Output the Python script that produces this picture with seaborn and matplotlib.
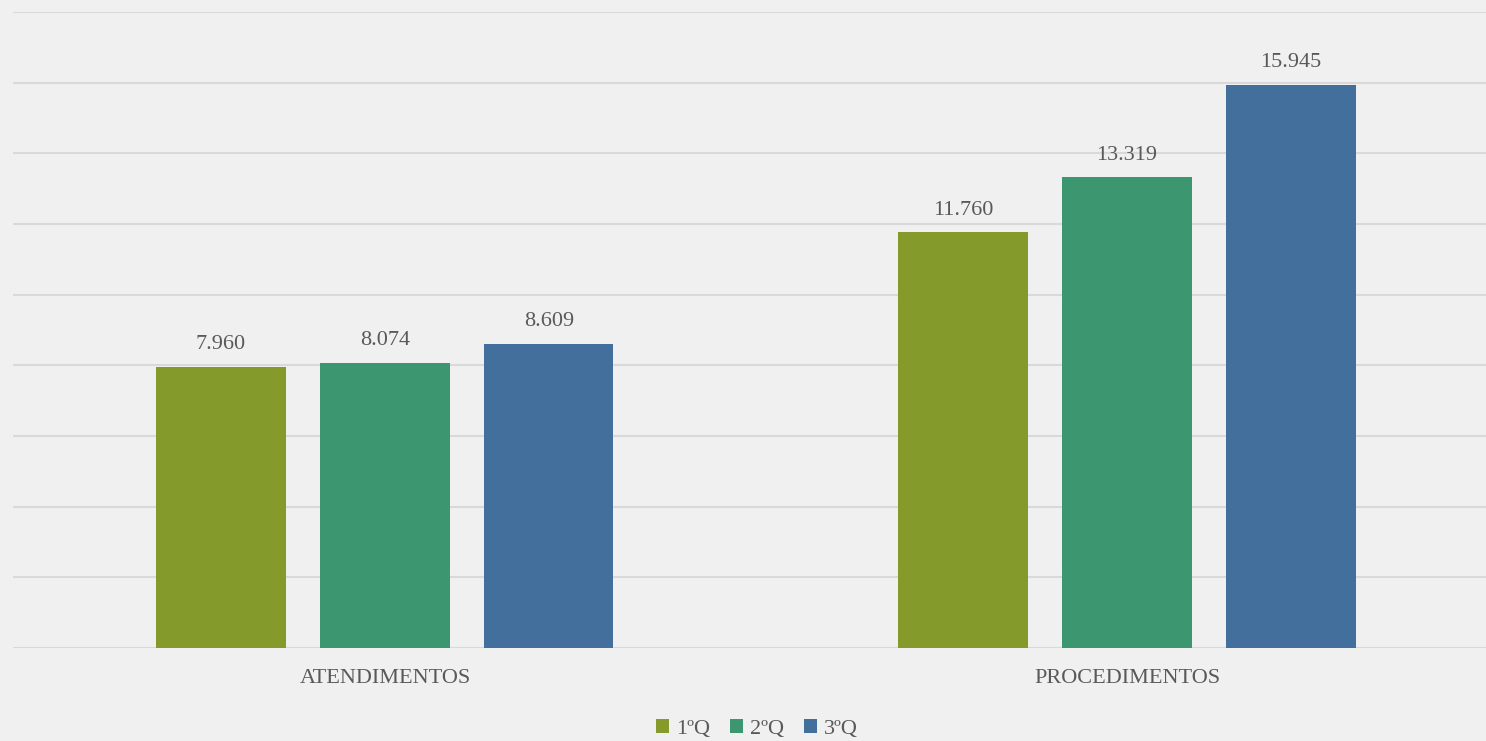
import numpy as np
import pandas as pd
import matplotlib
matplotlib.use("Agg")
import matplotlib.pyplot as plt
import seaborn as sns

categories = ["ATENDIMENTOS", "PROCEDIMENTOS"]
quarters = ["1ºQ", "2ºQ", "3ºQ"]
q1 = [7960, 11760]
q2 = [8074, 13319]
q3 = [8609, 15945]
colors = ["#849B2C", "#3C9770", "#426F9B"]

rows = []
for cat, a, b, c in zip(categories, q1, q2, q3):
    rows += [(cat, quarters[0], a), (cat, quarters[1], b), (cat, quarters[2], c)]
df = pd.DataFrame(rows, columns=["cat", "q", "val"])

sns.set_style("white")
plt.rcParams["font.family"] = ["Liberation Serif", "DejaVu Serif"]
txt = "#595959"
bg = "#f0f0f0"

fig = plt.figure(figsize=(14.86, 7.41), dpi=100, facecolor=bg)
ax = fig.add_axes([13 / 1486, 1 - 648 / 741, 1 - 13 / 1486, (648 - 12) / 741])
ax.set_facecolor(bg)

sns.barplot(data=df, x="cat", y="val", hue="q", palette=colors, width=0.663,
            gap=0.213, saturation=1, linewidth=0, ax=ax, legend=True, zorder=3)

ax.set_xlim(-0.5013, 1.4838)
ax.set_ylim(0, 18000)
ax.set_yticks(np.arange(0, 18001, 2000))
ax.yaxis.grid(True, color="#d9d9d9", linewidth=1.5, zorder=0)
ax.set_yticklabels([])
ax.tick_params(axis="y", length=0)
ax.tick_params(axis="x", length=0, labelsize=16, colors=txt, pad=15)
for s in ax.spines.values():
    s.set_visible(False)
ax.set_xlabel("")
ax.set_ylabel("")

for cont in ax.containers:
    labels = [f"{v:,.0f}".replace(",", ".") for v in cont.datavalues]
    ax.bar_label(cont, labels=labels, padding=9, fontsize=16, color=txt)

ax.legend(loc="upper center", bbox_to_anchor=(0.505, -0.08), ncol=3, frameon=False,
          fontsize=16, labelcolor=txt, handlelength=0.6, handleheight=0.6,
          handletextpad=0.3, columnspacing=0.9)

plt.savefig("out.png", dpi=100, facecolor=bg)
